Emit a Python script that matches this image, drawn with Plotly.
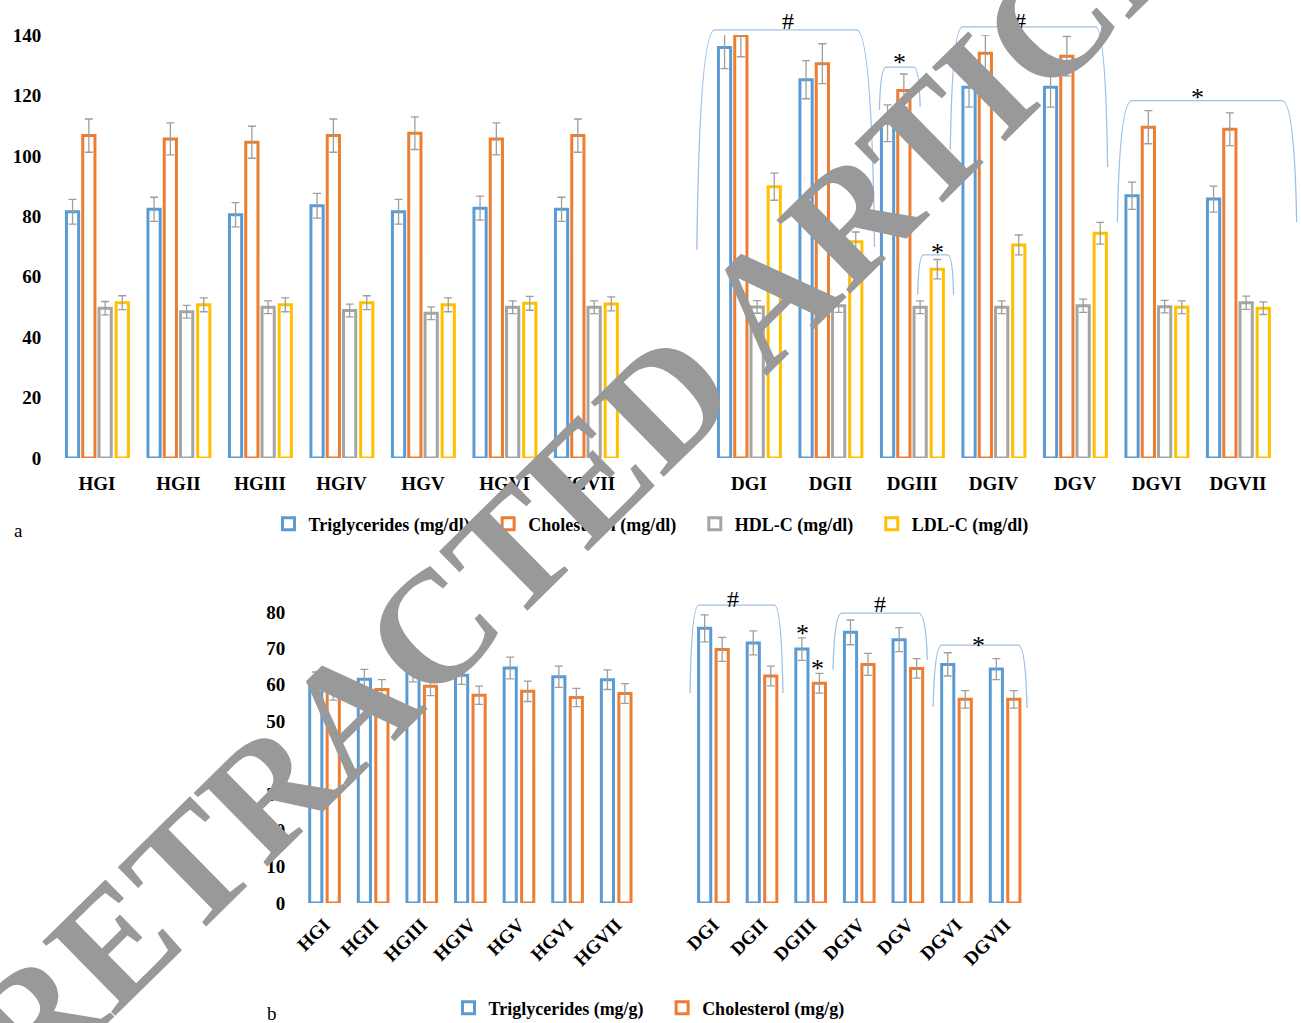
import plotly.graph_objects as go

# ---- categories -----------------------------------------------------------
hg_groups = ["HGI", "HGII", "HGIII", "HGIV", "HGV", "HGVI", "HGVII"]
dg_groups = ["DGI", "DGII", "DGIII", "DGIV", "DGV", "DGVI", "DGVII"]

# ---- panel a: serum lipids (HG groups followed by DG groups) ---------------
serum_tg = [81.5, 82.3, 80.5, 83.5, 81.5, 82.7, 82.3,
            135.9, 125.2, 110.8, 122.7, 122.7, 86.8, 85.7]
serum_tg_err = [4.1, 4.0, 4.0, 4.1, 4.1, 4.0, 4.0,
                7.0, 6.3, 6.1, 6.6, 6.6, 4.5, 4.3]
serum_chol = [106.7, 105.6, 104.5, 106.7, 107.5, 105.6, 106.7,
              139.8, 130.5, 121.6, 134.0, 133.0, 109.5, 108.8]
serum_chol_err = [5.5, 5.3, 5.3, 5.5, 5.4, 5.3, 5.5,
                  7.0, 6.6, 5.5, 6.0, 6.5, 5.5, 5.4]
serum_hdl = [49.6, 48.4, 49.9, 48.8, 47.9, 49.9, 49.9,
             50.0, 50.4, 49.9, 49.9, 50.4, 50.1, 51.4]
serum_hdl_err = [2.2, 2.1, 2.1, 2.1, 2.1, 2.1, 2.1,
                 2.1, 2.2, 2.1, 2.1, 2.2, 2.1, 2.2]
serum_ldl = [51.4, 50.7, 50.7, 51.4, 50.7, 51.2, 51.0,
             89.8, 71.6, 62.5, 70.5, 74.4, 49.9, 49.6]
serum_ldl_err = [2.3, 2.3, 2.3, 2.3, 2.3, 2.3, 2.3,
                 4.5, 3.2, 3.2, 3.3, 3.6, 2.1, 2.1]

# ---- panel b: tissue lipids -------------------------------------------------
tissue_tg = [60.8, 61.5, 63.5, 62.6, 64.6, 62.2, 61.4,
             75.5, 71.5, 69.8, 74.4, 72.4, 65.6, 64.3]
tissue_tg_err = [2.7, 2.7, 2.7, 2.5, 3.0, 2.9, 2.7,
                 3.7, 3.3, 3.1, 3.4, 3.3, 3.2, 2.9]
tissue_chol = [58.5, 58.7, 59.6, 57.1, 58.2, 56.5, 57.6,
               69.7, 62.4, 60.4, 65.6, 64.5, 56.0, 56.0]
tissue_chol_err = [2.7, 2.7, 2.6, 2.5, 2.8, 2.5, 2.7,
                   3.3, 2.7, 2.7, 3.0, 2.7, 2.4, 2.4]

W, H = 1301, 1023
SERIF = "Liberation Serif, Times New Roman, serif"
BLUE, ORANGE, GRAY, YELLOW = "#5B9BD5", "#ED7D31", "#A5A5A5", "#FFC000"
ERR_COLOR = "#9E9E9E"
BRACKET_COLOR = "#9DC0E6"
NBSP = "\u00a0"

# HG groups on slots 0-6, one empty slot, DG groups on slots 8-14
labels = hg_groups + dg_groups
slots = list(range(len(hg_groups))) + [len(hg_groups) + 1 + i for i in range(len(dg_groups))]

# subplot geometry (paper units)
XA_DOM = [56.25 / W, 1278.75 / W]
YA_DOM = [1 - 458 / H, 1 - 35 / H]
XB_DOM = [300.2 / W, 1029.4 / W]
YB_DOM = [1 - 903 / H, 1 - 612 / H]
X_RANGE = [-0.5, 14.5]
YA_RANGE = [0, 140]
YB_RANGE = [0, 80]


def to_paper(x, y, xdom, ydom, yrng):
    fx = (x - X_RANGE[0]) / (X_RANGE[1] - X_RANGE[0])
    fy = (y - yrng[0]) / (yrng[1] - yrng[0])
    return (xdom[0] + fx * (xdom[1] - xdom[0]),
            ydom[0] + fy * (ydom[1] - ydom[0]))


def pa(x, y):
    return to_paper(x, y, XA_DOM, YA_DOM, YA_RANGE)


def pb(x, y):
    return to_paper(x, y, XB_DOM, YB_DOM, YB_RANGE)


fig = go.Figure()


def add_bars(vals, errs, color, name, offset, width, xaxis, yaxis, legend):
    fig.add_trace(go.Bar(
        x=slots, y=vals, name=name + NBSP * 3,
        width=width, offset=offset,
        xaxis=xaxis, yaxis=yaxis, legend=legend,
        marker=dict(color="white", line=dict(color=color, width=3)),
        error_y=dict(type="data", array=errs, color=ERR_COLOR,
                     thickness=1.3, width=4),
        hoverinfo="x+y",
    ))


# panel a: four outlined bars per group
wa = 0.15
for vals, errs, color, name, centre in [
    (serum_tg, serum_tg_err, BLUE, "Triglycerides (mg/dl)", -0.30),
    (serum_chol, serum_chol_err, ORANGE, "Cholesterol (mg/dl)", -0.10),
    (serum_hdl, serum_hdl_err, GRAY, "HDL-C (mg/dl)", 0.10),
    (serum_ldl, serum_ldl_err, YELLOW, "LDL-C (mg/dl)", 0.31),
]:
    add_bars(vals, errs, color, name, centre - wa / 2, wa, "x", "y", "legend")

# panel b: two outlined bars per group
wb = 0.25
for vals, errs, color, name, centre in [
    (tissue_tg, tissue_tg_err, BLUE, "Triglycerides (mg/g)", -0.18),
    (tissue_chol, tissue_chol_err, ORANGE, "Cholesterol (mg/g)", 0.18),
]:
    add_bars(vals, errs, color, name, centre - wb / 2, wb, "x2", "y2", "legend2")

tick_font = dict(family=SERIF, size=19, color="black", weight="bold")

# significance brackets: (x_left, y_left_end, x_right, y_right_end, y_top, corner)
brackets_a = [
    (7.36, 68.9, 9.54, 69.8, 141.7, 0.22),
    (9.60, 115.2, 10.10, 116.2, 129.4, 0.08),
    (10.07, 54.0, 10.51, 54.0, 67.2, 0.07),
    (10.47, 102.0, 12.40, 96.3, 142.7, 0.15),
    (12.52, 78.1, 14.72, 78.1, 118.3, 0.18),
]
brackets_b = [
    (7.52, 57.7, 9.43, 57.7, 81.9, 0.18),
    (10.46, 64.1, 12.40, 66.8, 79.7, 0.18),
    (12.52, 53.9, 14.45, 53.6, 70.9, 0.18),
]
marks_a = [("#", 8.48, 144.5), ("*", 9.85, 130.8), ("*", 10.31, 68.0),
           ("#", 11.32, 144.5), ("*", 13.50, 119.2)]
marks_b = [("#", 8.40, 83.6), ("*", 9.84, 74.0), ("*", 10.15, 64.4),
           ("#", 11.43, 82.3), ("*", 13.45, 70.8)]


def bracket_path(conv, xl, yl, xr, yr, yt, c):
    p0 = conv(xl, yl)
    c1 = conv(xl + c * 0.15, yt)
    p1 = conv(xl + c, yt)
    p2 = conv(xr - c, yt)
    c2 = conv(xr - c * 0.15, yt)
    p3 = conv(xr, yr)
    return (f"M {p0[0]},{p0[1]} Q {c1[0]},{c1[1]} {p1[0]},{p1[1]} "
            f"L {p2[0]},{p2[1]} Q {c2[0]},{c2[1]} {p3[0]},{p3[1]}")


shapes = []
for conv, brs in [(pa, brackets_a), (pb, brackets_b)]:
    for b in brs:
        shapes.append(dict(type="path", xref="paper", yref="paper",
                           path=bracket_path(conv, *b),
                           line=dict(color=BRACKET_COLOR, width=1.3)))

annotations = []
for conv, marks in [(pa, marks_a), (pb, marks_b)]:
    for txt, x, y in marks:
        px, py = conv(x, y)
        annotations.append(dict(text=txt, x=px, y=py, xref="paper", yref="paper",
                                showarrow=False, xanchor="center", yanchor="middle",
                                font=dict(family=SERIF, size=26 if txt == "*" else 24,
                                          color="black")))

# panel letters
annotations.append(dict(text="a", x=18 / W, y=1 - 530 / H, xref="paper", yref="paper",
                        showarrow=False, xanchor="center", yanchor="middle",
                        font=dict(family=SERIF, size=19, color="black")))
annotations.append(dict(text="b", x=272 / W, y=1 - 1013 / H, xref="paper", yref="paper",
                        showarrow=False, xanchor="center", yanchor="middle",
                        font=dict(family=SERIF, size=19, color="black")))

# retraction stamp across the figure
annotations.append(dict(text="RETRACTED ARTICLE", x=617 / W, y=1 - 447 / H,
                        xref="paper", yref="paper", showarrow=False,
                        xanchor="center", yanchor="middle", textangle=-44.5,
                        font=dict(family=SERIF, size=159, color="#999999",
                                  weight="bold")))

legend_font = dict(family=SERIF, size=18, color="black", weight="bold")

fig.update_layout(
    width=W, height=H, autosize=False,
    margin=dict(l=0, r=0, t=0, b=0, autoexpand=False),
    paper_bgcolor="white", plot_bgcolor="white",
    barmode="overlay",
    showlegend=True,
    xaxis=dict(domain=XA_DOM, range=X_RANGE, anchor="y",
               tickmode="array", tickvals=slots, ticktext=labels,
               tickfont=tick_font, ticks="", ticklabelstandoff=12,
               showgrid=False, zeroline=False, showline=False),
    yaxis=dict(domain=YA_DOM, range=YA_RANGE, anchor="x",
               tickmode="linear", tick0=0, dtick=20,
               tickfont=tick_font, ticks="", ticklabelstandoff=14,
               showgrid=False, zeroline=False, showline=False),
    xaxis2=dict(domain=XB_DOM, range=X_RANGE, anchor="y2",
                tickmode="array", tickvals=slots, ticktext=labels,
                tickangle=-45, tickfont=tick_font, ticks="", ticklabelstandoff=6,
                showgrid=False, zeroline=False, showline=False),
    yaxis2=dict(domain=YB_DOM, range=YB_RANGE, anchor="x2",
                tickmode="linear", tick0=0, dtick=10,
                tickfont=tick_font, ticks="", ticklabelstandoff=14,
                showgrid=False, zeroline=False, showline=False),
    legend=dict(orientation="h", x=658 / W, y=1 - 524 / H,
                xanchor="center", yanchor="middle",
                font=legend_font, bgcolor="rgba(0,0,0,0)"),
    legend2=dict(orientation="h", x=656 / W, y=1 - 1008 / H,
                 xanchor="center", yanchor="middle",
                 font=legend_font, bgcolor="rgba(0,0,0,0)"),
    shapes=shapes,
    annotations=annotations,
)

fig.write_html("out.html")
